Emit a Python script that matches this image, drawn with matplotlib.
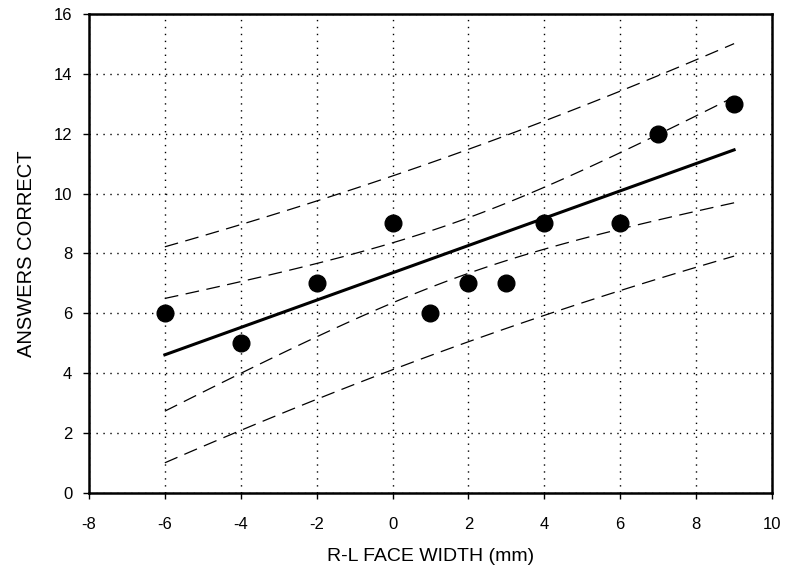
import matplotlib.pyplot as plt
import numpy as np

plt.rcParams['font.family'] = ['Liberation Sans', 'DejaVu Sans']
plt.rcParams['axes.unicode_minus'] = False

# face width difference (mm) vs number of answers correct
width_mm = np.array([-6, -4, -2, 0, 1, 2, 3, 4, 6, 7, 9])
answers = np.array([6, 5, 7, 9, 6, 7, 7, 9, 9, 12, 13])

x_ticks = [-8, -6, -4, -2, 0, 2, 4, 6, 8, 10]
y_ticks = [0, 2, 4, 6, 8, 10, 12, 14, 16]

# least squares fit with confidence and prediction bands
n = len(width_mm)
slope, intercept = np.polyfit(width_mm, answers, 1)
resid = answers - (slope * width_mm + intercept)
s = np.sqrt(np.sum(resid ** 2) / (n - 2))
t = 2.13  # band multiplier
xm = width_mm.mean()
sxx = np.sum((width_mm - xm) ** 2)

xs = np.linspace(width_mm.min(), width_mm.max(), 100)
fit = slope * xs + intercept
ci = t * s * np.sqrt(1 / n + (xs - xm) ** 2 / sxx)
pi = t * s * np.sqrt(1 + 1 / n + (xs - xm) ** 2 / sxx)

fig = plt.figure(figsize=(7.87, 5.76), dpi=100)
ax = fig.add_axes([0.113, 0.144, 0.868, 0.832])

dash = (0, (11, 6))
ax.plot(xs, fit, color='black', lw=2.2)
ax.plot(xs, fit + ci, color='black', lw=0.9, ls=dash)
ax.plot(xs, fit - ci, color='black', lw=0.9, ls=dash)
ax.plot(xs, fit + pi, color='black', lw=0.9, ls=dash)
ax.plot(xs, fit - pi, color='black', lw=0.9, ls=dash)
ax.plot(width_mm, answers, 'o', color='black', markersize=12, zorder=5)

ax.set_xlim(-8, 10)
ax.set_ylim(0, 16)
ax.set_xticks(x_ticks)
ax.set_yticks(y_ticks)
ax.grid(True, color='black', ls=(0, (1, 4)), lw=1.0)
ax.tick_params(direction='out', length=4, width=1, labelsize=12)
ax.tick_params(axis='x', pad=13)
ax.tick_params(axis='y', pad=8)
for sp in ax.spines.values():
    sp.set_linewidth(1.8)

ax.set_xlabel('R-L FACE WIDTH (mm)', fontsize=14, labelpad=12)
ax.set_ylabel('ANSWERS CORRECT', fontsize=14.5, labelpad=13)

plt.savefig('out.png', dpi=100)
